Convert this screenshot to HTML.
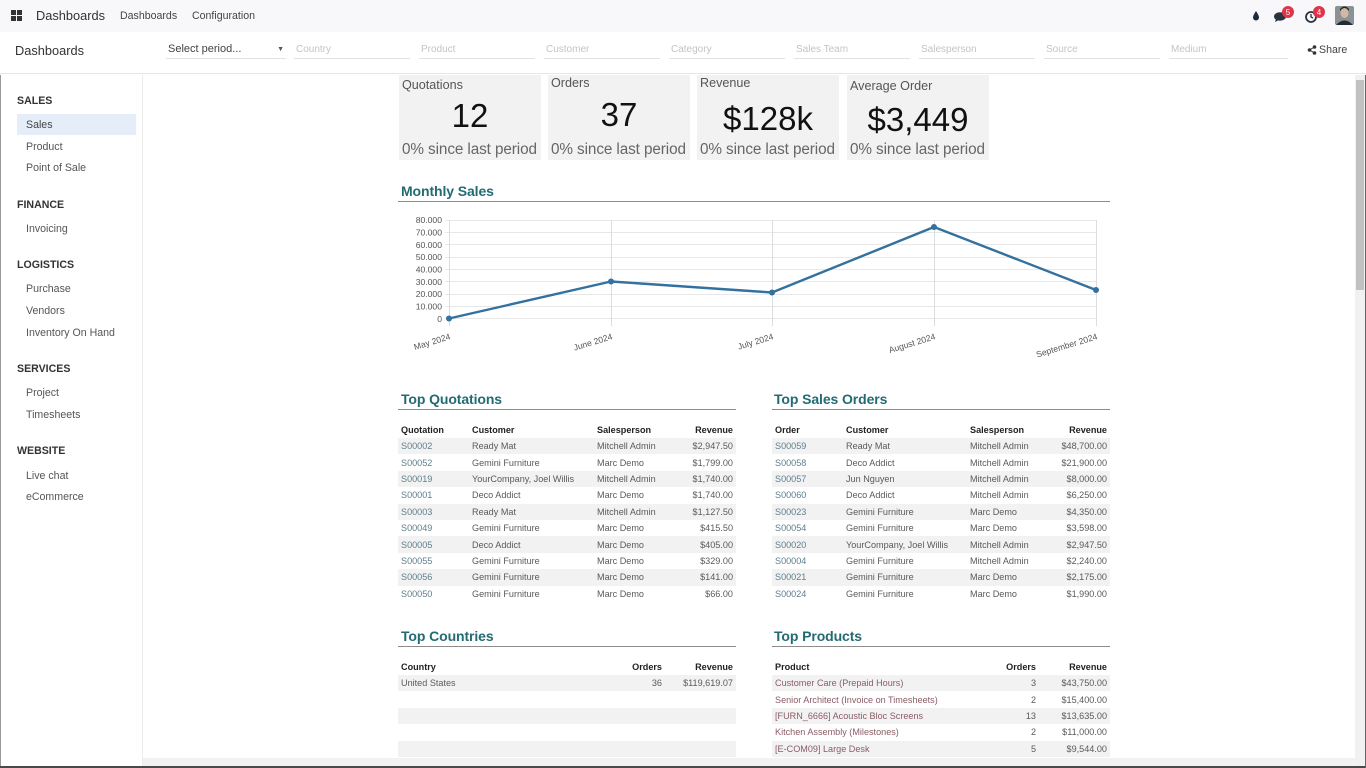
<!DOCTYPE html>
<html>
<head>
<meta charset="utf-8">
<style>
*{box-sizing:border-box;margin:0;padding:0}
body{width:1366px;height:768px;overflow:hidden;background:#fff;font-family:"Liberation Sans",Arial,sans-serif;color:#444;position:relative}
.a{position:absolute;white-space:nowrap}
.topbar{position:absolute;left:0;top:0;width:1366px;height:32px;background:#f8f8fa}
.bar2{position:absolute;left:0;top:32px;width:1366px;height:42px;background:#fff;border-bottom:1px solid #e6e6e6}
.filt{position:absolute;top:41px;height:18px;border-bottom:1px solid #e2e2e2;font-size:10px;color:#c4c4c4;padding-left:2px;line-height:17px}
.side{position:absolute;left:1px;top:75px;width:142px;height:693px;border-right:1px solid #ececec;background:#fff}
.sh{position:absolute;left:17px;font-size:10.6px;font-weight:bold;color:#333}
.si{position:absolute;left:26px;font-size:10.6px;color:#555}
.card{position:absolute;top:75px;width:142px;height:85px;background:#f2f2f2}
.ct{position:absolute;left:3px;font-size:12.6px;color:#555}
.cn{position:absolute;left:0;width:100%;text-align:center;font-size:33px;color:#111}
.cs{position:absolute;left:3px;font-size:15.3px;color:#666;letter-spacing:-0.1px}
.h{position:absolute;font-size:14px;font-weight:bold;color:#236b73;letter-spacing:-0.1px}
.hl{position:absolute;height:1px;background:#8c8c8c}
table{position:absolute;border-collapse:collapse;table-layout:fixed;font-size:9.1px;color:#5a5a5a}
td,th{height:16.4px;padding:0 3px;white-space:nowrap;overflow:hidden;font-weight:normal;text-align:left}
th{color:#222;font-weight:bold;height:16px}
tr.s td{background:#f2f2f2}
.r{text-align:right}
.lk{color:#5e7f8c}
.pk{color:#8a5c66}
</style>
</head>
<body>
<!-- top navbar -->
<div class="topbar"></div>
<div class="a" style="left:11px;top:10px;width:5px;height:5px;background:#333"></div>
<div class="a" style="left:17px;top:10px;width:5px;height:5px;background:#333"></div>
<div class="a" style="left:11px;top:16px;width:5px;height:5px;background:#333"></div>
<div class="a" style="left:17px;top:16px;width:5px;height:5px;background:#333"></div>
<div class="a" style="left:36px;top:8px;font-size:12.8px;color:#333">Dashboards</div>
<div class="a" style="left:120px;top:10px;font-size:10.6px;color:#444">Dashboards</div>
<div class="a" style="left:192px;top:10px;font-size:10.6px;color:#444">Configuration</div>

<!-- right icons -->
<svg class="a" style="left:1240px;top:0" width="126" height="32" viewBox="0 0 126 32">
  <path d="M16 11 C14 14 13 16 13 17.5 A3 3 0 0 0 19 17.5 C19 16 18 14 16 11Z" fill="#1d2b3a"/>
  <ellipse cx="40" cy="16.5" rx="6" ry="4.2" fill="#2a3440"/>
  <path d="M36 19 L35 22 L39 20Z" fill="#2a3440"/>
  <circle cx="48" cy="12" r="6" fill="#e0344a"/>
  <text x="48" y="15" font-size="8" fill="#fff" text-anchor="middle" font-family="Liberation Sans">5</text>
  <circle cx="71" cy="17" r="5" fill="none" stroke="#2a3440" stroke-width="1.8"/>
  <path d="M71 14 L71 17 L73 18" stroke="#2a3440" stroke-width="1.3" fill="none"/>
  <circle cx="79" cy="12" r="6" fill="#e0344a"/>
  <text x="79" y="15" font-size="8" fill="#fff" text-anchor="middle" font-family="Liberation Sans">4</text>
  <rect x="95" y="6" width="19" height="19" rx="2" fill="#8a9296"/>
  <ellipse cx="104.5" cy="13" rx="4" ry="5" fill="#d4b8a4"/>
  <path d="M96 25 Q104.5 16 113 25Z" fill="#232a30"/>
  <path d="M100 11 Q104.5 5 109 11 L109 9 Q104.5 4 100 9Z" fill="#2b2622"/>
</svg>

<!-- second bar -->
<div class="bar2"></div>
<div class="a" style="left:15px;top:43px;font-size:12.8px;color:#333">Dashboards</div>
<div class="filt" style="left:166px;width:120px;color:#444;font-size:11px">Select period...<span style="position:absolute;right:2px;top:0;font-size:7px;color:#555">▼</span></div>
<div class="filt" style="left:294px;width:116px">Country</div>
<div class="filt" style="left:419px;width:116px">Product</div>
<div class="filt" style="left:544px;width:116px">Customer</div>
<div class="filt" style="left:669px;width:116px">Category</div>
<div class="filt" style="left:794px;width:116px">Sales Team</div>
<div class="filt" style="left:919px;width:116px">Salesperson</div>
<div class="filt" style="left:1044px;width:116px">Source</div>
<div class="filt" style="left:1169px;width:119px">Medium</div>
<svg class="a" style="left:1307px;top:45px" width="10" height="10" viewBox="0 0 10 10">
  <circle cx="2.5" cy="5" r="1.8" fill="#333"/><circle cx="7.5" cy="2" r="1.8" fill="#333"/><circle cx="7.5" cy="8" r="1.8" fill="#333"/>
  <path d="M2.5 5 L7.5 2 M2.5 5 L7.5 8" stroke="#333" stroke-width="1"/>
</svg>
<div class="a" style="left:1319px;top:44px;font-size:10.6px;color:#444">Share</div>

<!-- sidebar -->
<div class="a" style="left:0;top:75px;width:1px;height:693px;background:#999"></div>
<div class="side"></div>
<div class="a" style="left:17px;top:114px;width:119px;height:21px;background:#e5edf8"></div>
<div class="sh" style="top:95px">SALES</div>
<div class="si" style="top:119px;color:#444">Sales</div>
<div class="si" style="top:141px">Product</div>
<div class="si" style="top:162px">Point of Sale</div>
<div class="sh" style="top:199px">FINANCE</div>
<div class="si" style="top:223px">Invoicing</div>
<div class="sh" style="top:259px">LOGISTICS</div>
<div class="si" style="top:283px">Purchase</div>
<div class="si" style="top:305px">Vendors</div>
<div class="si" style="top:327px">Inventory On Hand</div>
<div class="sh" style="top:363px">SERVICES</div>
<div class="si" style="top:387px">Project</div>
<div class="si" style="top:409px">Timesheets</div>
<div class="sh" style="top:445px">WEBSITE</div>
<div class="si" style="top:470px">Live chat</div>
<div class="si" style="top:491px">eCommerce</div>

<!-- KPI cards -->
<div class="card" style="left:399px">
  <div class="ct" style="top:3px">Quotations</div>
  <div class="cn" style="top:22px">12</div>
  <div class="cs" style="top:66px">0% since last period</div>
</div>
<div class="card" style="left:548px">
  <div class="ct" style="top:1px">Orders</div>
  <div class="cn" style="top:21px">37</div>
  <div class="cs" style="top:66px">0% since last period</div>
</div>
<div class="card" style="left:697px">
  <div class="ct" style="top:1px">Revenue</div>
  <div class="cn" style="top:25px">$128k</div>
  <div class="cs" style="top:66px">0% since last period</div>
</div>
<div class="card" style="left:847px">
  <div class="ct" style="top:4px">Average Order</div>
  <div class="cn" style="top:26px">$3,449</div>
  <div class="cs" style="top:66px">0% since last period</div>
</div>

<!-- Monthly sales -->
<div class="h" style="left:401px;top:183px">Monthly Sales</div>
<div class="hl" style="left:398px;top:201px;width:712px"></div>

<svg class="a" style="left:0;top:0" width="1366" height="768" viewBox="0 0 1366 768">
  <g stroke="#e8e8e8" stroke-width="1">
    <line x1="445" y1="220.5" x2="1097" y2="220.5"/>
    <line x1="445" y1="232.5" x2="1097" y2="232.5"/>
    <line x1="445" y1="244.5" x2="1097" y2="244.5"/>
    <line x1="445" y1="257.5" x2="1097" y2="257.5"/>
    <line x1="445" y1="269.5" x2="1097" y2="269.5"/>
    <line x1="445" y1="281.5" x2="1097" y2="281.5"/>
    <line x1="445" y1="294.5" x2="1097" y2="294.5"/>
    <line x1="445" y1="306.5" x2="1097" y2="306.5"/>
    <line x1="445" y1="318.5" x2="1097" y2="318.5"/>
  </g>
  <g stroke="#dcdde3" stroke-width="1">
    <line x1="449.5" y1="220" x2="449.5" y2="326"/>
    <line x1="611.5" y1="220" x2="611.5" y2="326"/>
    <line x1="772.5" y1="220" x2="772.5" y2="326"/>
    <line x1="934.5" y1="220" x2="934.5" y2="326"/>
    <line x1="1096.5" y1="220" x2="1096.5" y2="326"/>
  </g>
  <g font-family="Liberation Sans" font-size="8.6" fill="#555" text-anchor="end">
    <text x="442" y="223">80.000</text>
    <text x="442" y="235.5">70.000</text>
    <text x="442" y="247.8">60.000</text>
    <text x="442" y="260.2">50.000</text>
    <text x="442" y="272.5">40.000</text>
    <text x="442" y="284.9">30.000</text>
    <text x="442" y="297.2">20.000</text>
    <text x="442" y="309.6">10.000</text>
    <text x="442" y="322">0</text>
    <text transform="translate(451,339) rotate(-17)">May 2024</text>
    <text transform="translate(613,339) rotate(-17)">June 2024</text>
    <text transform="translate(774,339) rotate(-17)">July 2024</text>
    <text transform="translate(936,339) rotate(-17)">August 2024</text>
    <text transform="translate(1098,339) rotate(-17)">September 2024</text>
  </g>
  <polyline points="449,318.5 611,281.5 772,292.5 934,227 1096,290" fill="none" stroke="#33719e" stroke-width="2.4" stroke-linejoin="round"/>
  <g fill="#33719e">
    <circle cx="449" cy="318.5" r="3"/>
    <circle cx="611" cy="281.5" r="3"/>
    <circle cx="772" cy="292.5" r="3"/>
    <circle cx="934" cy="227" r="3"/>
    <circle cx="1096" cy="290" r="3"/>
  </g>
</svg>

<!-- Top Quotations -->
<div class="h" style="left:401px;top:391px">Top Quotations</div>
<div class="hl" style="left:398px;top:409px;width:338px"></div>
<table style="left:398px;top:422px;width:338px">
  <colgroup><col style="width:71px"><col style="width:125px"><col style="width:88px"><col style="width:54px"></colgroup>
  <tr><th>Quotation</th><th>Customer</th><th>Salesperson</th><th class="r">Revenue</th></tr>
  <tr class="s"><td class="lk">S00002</td><td>Ready Mat</td><td>Mitchell Admin</td><td class="r">$2,947.50</td></tr>
  <tr><td class="lk">S00052</td><td>Gemini Furniture</td><td>Marc Demo</td><td class="r">$1,799.00</td></tr>
  <tr class="s"><td class="lk">S00019</td><td>YourCompany, Joel Willis</td><td>Mitchell Admin</td><td class="r">$1,740.00</td></tr>
  <tr><td class="lk">S00001</td><td>Deco Addict</td><td>Marc Demo</td><td class="r">$1,740.00</td></tr>
  <tr class="s"><td class="lk">S00003</td><td>Ready Mat</td><td>Mitchell Admin</td><td class="r">$1,127.50</td></tr>
  <tr><td class="lk">S00049</td><td>Gemini Furniture</td><td>Marc Demo</td><td class="r">$415.50</td></tr>
  <tr class="s"><td class="lk">S00005</td><td>Deco Addict</td><td>Marc Demo</td><td class="r">$405.00</td></tr>
  <tr><td class="lk">S00055</td><td>Gemini Furniture</td><td>Marc Demo</td><td class="r">$329.00</td></tr>
  <tr class="s"><td class="lk">S00056</td><td>Gemini Furniture</td><td>Marc Demo</td><td class="r">$141.00</td></tr>
  <tr><td class="lk">S00050</td><td>Gemini Furniture</td><td>Marc Demo</td><td class="r">$66.00</td></tr>
</table>

<!-- Top Sales Orders -->
<div class="h" style="left:774px;top:391px">Top Sales Orders</div>
<div class="hl" style="left:772px;top:409px;width:338px"></div>
<table style="left:772px;top:422px;width:338px">
  <colgroup><col style="width:71px"><col style="width:124px"><col style="width:84px"><col style="width:59px"></colgroup>
  <tr><th>Order</th><th>Customer</th><th>Salesperson</th><th class="r">Revenue</th></tr>
  <tr class="s"><td class="lk">S00059</td><td>Ready Mat</td><td>Mitchell Admin</td><td class="r">$48,700.00</td></tr>
  <tr><td class="lk">S00058</td><td>Deco Addict</td><td>Mitchell Admin</td><td class="r">$21,900.00</td></tr>
  <tr class="s"><td class="lk">S00057</td><td>Jun Nguyen</td><td>Mitchell Admin</td><td class="r">$8,000.00</td></tr>
  <tr><td class="lk">S00060</td><td>Deco Addict</td><td>Mitchell Admin</td><td class="r">$6,250.00</td></tr>
  <tr class="s"><td class="lk">S00023</td><td>Gemini Furniture</td><td>Marc Demo</td><td class="r">$4,350.00</td></tr>
  <tr><td class="lk">S00054</td><td>Gemini Furniture</td><td>Marc Demo</td><td class="r">$3,598.00</td></tr>
  <tr class="s"><td class="lk">S00020</td><td>YourCompany, Joel Willis</td><td>Mitchell Admin</td><td class="r">$2,947.50</td></tr>
  <tr><td class="lk">S00004</td><td>Gemini Furniture</td><td>Mitchell Admin</td><td class="r">$2,240.00</td></tr>
  <tr class="s"><td class="lk">S00021</td><td>Gemini Furniture</td><td>Marc Demo</td><td class="r">$2,175.00</td></tr>
  <tr><td class="lk">S00024</td><td>Gemini Furniture</td><td>Marc Demo</td><td class="r">$1,990.00</td></tr>
</table>

<!-- Top Countries -->
<div class="h" style="left:401px;top:628px">Top Countries</div>
<div class="hl" style="left:398px;top:646px;width:338px"></div>
<table style="left:398px;top:659px;width:338px">
  <colgroup><col style="width:212px"><col style="width:55px"><col style="width:71px"></colgroup>
  <tr><th>Country</th><th class="r">Orders</th><th class="r">Revenue</th></tr>
  <tr class="s"><td>United States</td><td class="r">36</td><td class="r">$119,619.07</td></tr>
  <tr><td>&nbsp;</td><td></td><td></td></tr>
  <tr class="s"><td>&nbsp;</td><td></td><td></td></tr>
  <tr><td>&nbsp;</td><td></td><td></td></tr>
  <tr class="s"><td>&nbsp;</td><td></td><td></td></tr>
</table>

<!-- Top Products -->
<div class="h" style="left:774px;top:628px">Top Products</div>
<div class="hl" style="left:772px;top:646px;width:338px"></div>
<table style="left:772px;top:659px;width:338px">
  <colgroup><col style="width:218px"><col style="width:49px"><col style="width:71px"></colgroup>
  <tr><th>Product</th><th class="r">Orders</th><th class="r">Revenue</th></tr>
  <tr class="s"><td class="pk">Customer Care (Prepaid Hours)</td><td class="r">3</td><td class="r">$43,750.00</td></tr>
  <tr><td class="pk">Senior Architect (Invoice on Timesheets)</td><td class="r">2</td><td class="r">$15,400.00</td></tr>
  <tr class="s"><td class="pk">[FURN_6666] Acoustic Bloc Screens</td><td class="r">13</td><td class="r">$13,635.00</td></tr>
  <tr><td class="pk">Kitchen Assembly (Milestones)</td><td class="r">2</td><td class="r">$11,000.00</td></tr>
  <tr class="s"><td class="pk">[E-COM09] Large Desk</td><td class="r">5</td><td class="r">$9,544.00</td></tr>
</table>

<!-- bottom strip & frame -->
<div class="a" style="left:143px;top:758px;width:1212px;height:8px;background:#f2f2f2"></div>
<div class="a" style="left:0;top:766px;width:1366px;height:2px;background:#4a4a4a"></div>
<!-- scrollbar -->
<div class="a" style="left:1355px;top:75px;width:10px;height:691px;background:#f1f1f1"></div>
<div class="a" style="left:1356px;top:80px;width:8px;height:210px;background:#c1c1c1"></div>
<div class="a" style="left:1365px;top:75px;width:1px;height:693px;background:#666"></div>
</body>
</html>
